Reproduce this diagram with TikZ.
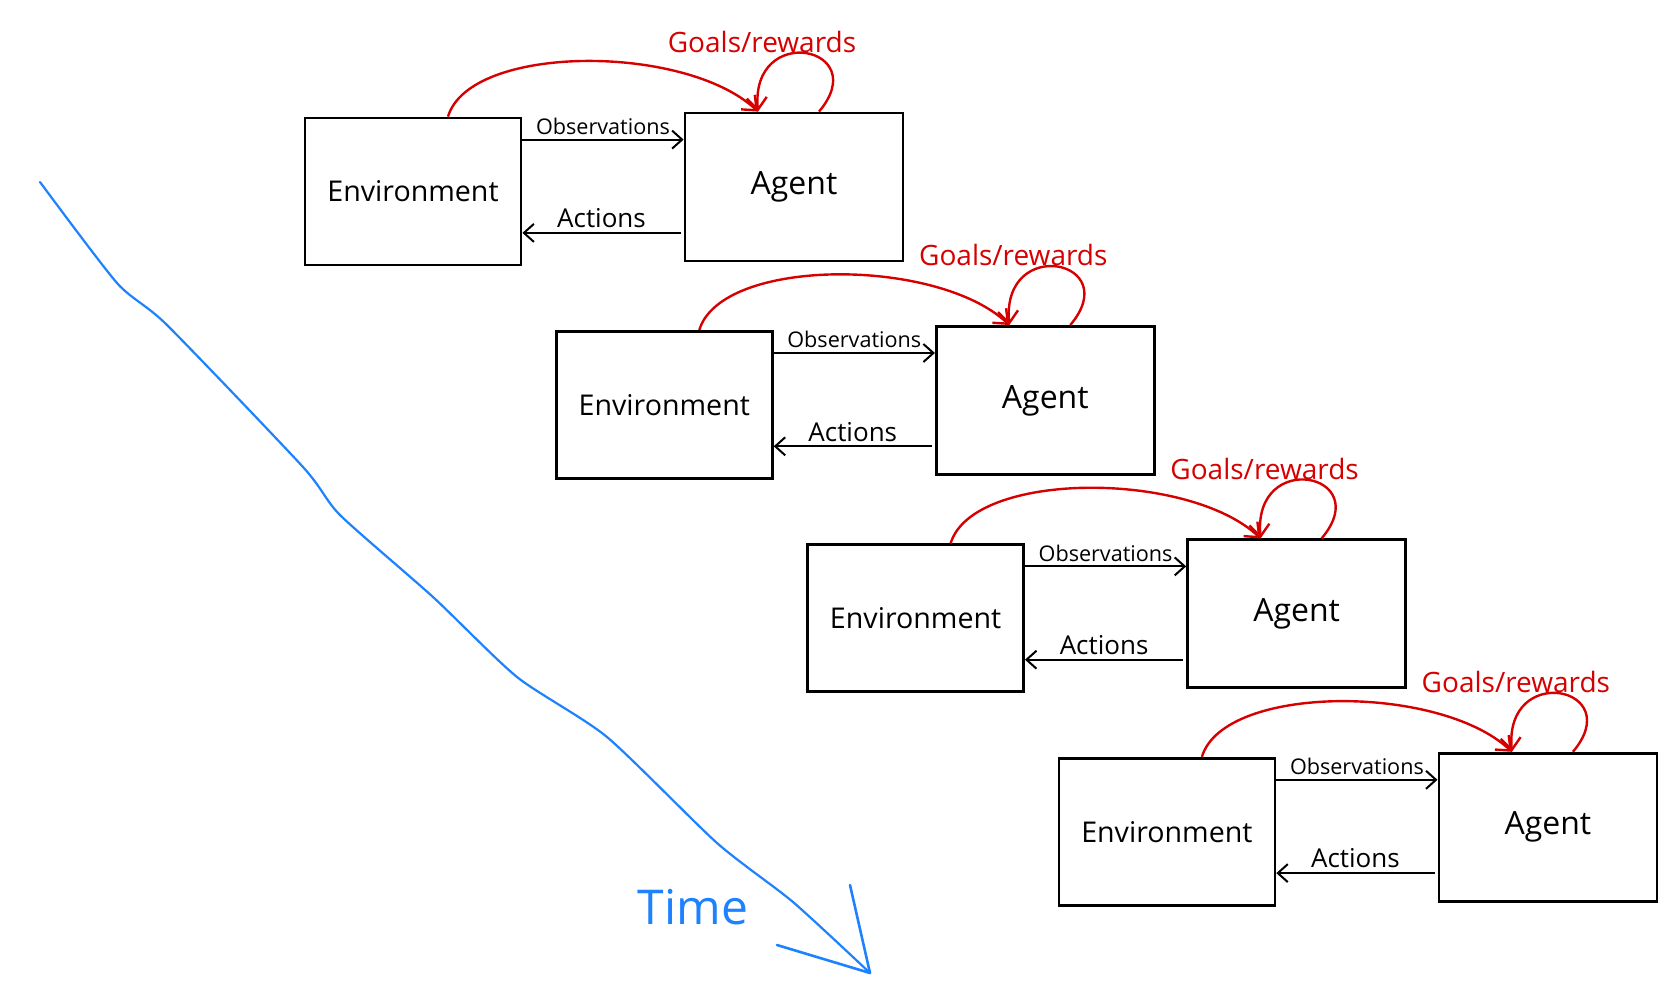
\documentclass[tikz,border=0pt]{standalone}
\usepackage{fontspec}
\setmainfont{Open Sans}
\usetikzlibrary{arrows.meta,calc}
\definecolor{sketchred}{RGB}{214,0,0}
\definecolor{sketchblue}{RGB}{30,130,255}
\begin{document}
\begin{tikzpicture}[x=0.5pt,y=-0.5pt,
  box/.style={draw, line width=1.4pt, minimum width=108pt, minimum height=73.5pt, inner sep=0pt},
  flow/.style={line width=1pt, -{Straight Barb[length=5pt,width=9pt,line width=1pt]}},
  feed/.style={sketchred, line width=1.2pt, -{Straight Barb[length=6pt,width=10pt,line width=1.2pt]}},
  obslbl/.style={font=\fontsize{10.8}{13}\selectfont, inner sep=1pt},
  actlbl/.style={font=\fontsize{13}{15}\selectfont, inner sep=1pt},
  glbl/.style={text=sketchred, font=\fontsize{14}{16}\selectfont, inner sep=1pt},
  timeline/.style={sketchblue, line width=1.1pt, line cap=round, line join=round}]
\useasboundingbox (0,0) rectangle (1665,986);

% four interaction loops, each shifted down and to the right
\foreach \i in {0,1,2,3}{
  \begin{scope}[shift={({251.3*\i},{213.4*\i})}]
    \node[box, font=\fontsize{14.3}{17}\selectfont] (env\i) at (413,191.5) {Environment};
    \node[box, minimum width=109pt, minimum height=74pt, font=\fontsize{16}{19}\selectfont]
      (ag\i) at (794,187) {Agent};
    % observations: environment -> agent
    \draw[flow] ($(env\i.north east)+(0,23)$) coordinate (o\i)
      -- (o\i -| ag\i.west) node[obslbl, midway, above=1pt] {Observations};
    % actions: agent -> environment
    \draw[flow] ($(ag\i.south west)+(-3,-29.5)$) coordinate (a\i)
      -- (a\i -| env\i.east) node[actlbl, midway, above=1pt] {Actions};
    % goals / rewards
    \draw[feed] ($(env\i.north)+(35,0)$) .. controls +(22,-73) and +(-72,-68) .. ($(ag\i.north)+(-36,0)$);
    \draw[feed] ($(ag\i.north)+(25,0)$) .. controls +(55,-65) and +(-8,-90) .. ($(ag\i.north)+(-36,0)$);
    \node[glbl] (g\i) at (762,42) {Goals/rewards};
  \end{scope}
}

% time axis
\coordinate (tstart) at (40,182);
\coordinate (tend) at (870,973);
\draw[timeline] plot[smooth, tension=0.4] coordinates
  {(tstart) (117,283) (167,325) (303,467) (340,515) (433,597) (517,677)
   (607,737) (717,843) (793,902) (tend)};
\draw[timeline, line width=1.3pt] (777,945) -- (tend) -- (850,885);
\node[text=sketchblue, font=\fontsize{24}{28}\selectfont] (time) at (693,907) {Time};
\end{tikzpicture}
\end{document}
